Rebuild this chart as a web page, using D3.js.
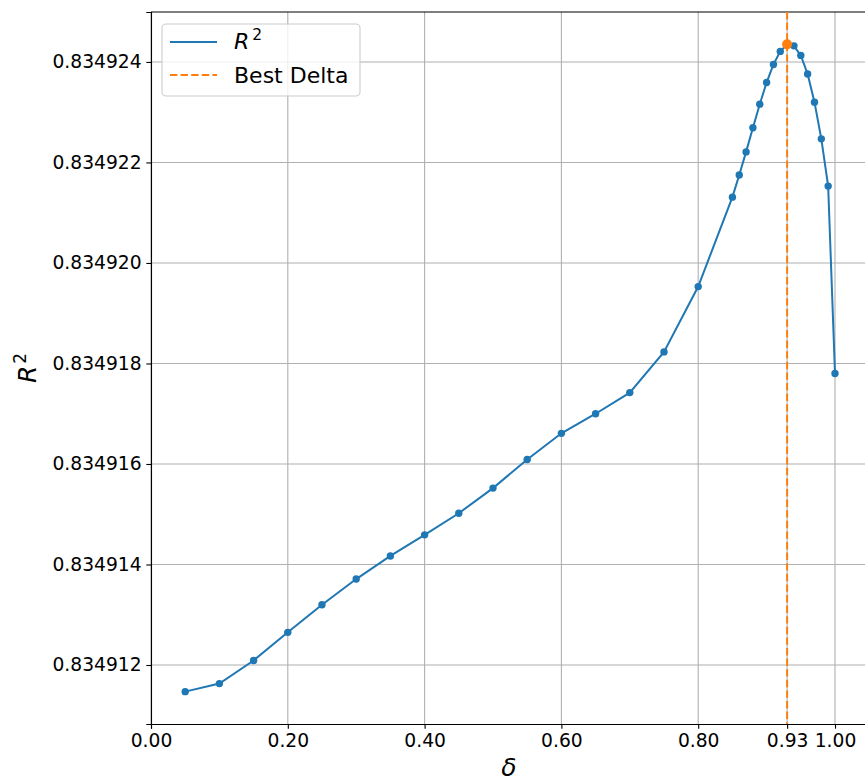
<!DOCTYPE html>
<html>
<head>
<meta charset="utf-8">
<script src="https://cdn.jsdelivr.net/npm/d3@7"></script>
<style>
  body { margin: 0; background: #fff; }
  svg { font-family: "DejaVu Sans", sans-serif; display: block; }
</style>
</head>
<body>
<div id="chart"></div>
<script>
// delta values and R^2
var deltas = [0.05, 0.10, 0.15, 0.20, 0.25, 0.30, 0.35, 0.40, 0.45, 0.50, 0.55, 0.60, 0.65, 0.70, 0.75, 0.80,
  0.85, 0.86, 0.87, 0.88, 0.89, 0.90, 0.91, 0.92, 0.93, 0.94, 0.95, 0.96, 0.97, 0.98, 0.99, 1.00];
var r2 = [0.83491147, 0.83491163, 0.83491209, 0.83491265, 0.83491320, 0.83491371, 0.83491417, 0.83491459,
  0.83491502, 0.83491552, 0.83491609, 0.83491661, 0.83491700, 0.83491742, 0.83491823, 0.83491953,
  0.83492131, 0.83492175, 0.83492221, 0.83492269, 0.83492316, 0.83492359, 0.83492395, 0.83492421,
  0.83492435, 0.83492432, 0.83492413, 0.83492376, 0.83492320, 0.83492247, 0.83492153, 0.83491780];
var bestDelta = 0.93;
var xTicks = [0.00, 0.20, 0.40, 0.60, 0.80, 0.93, 1.00];
var yTicks = [0.834912, 0.834914, 0.834916, 0.834918, 0.834920, 0.834922, 0.834924];

var width = 865, height = 781;
var margin = {top: 12, left: 151, bottom: 57};
var plotW = 1.0475 * 684;
var plotH = height - margin.top - margin.bottom;

var svg = d3.select("#chart").append("svg")
  .attr("width", width)
  .attr("height", height);

var yMin = d3.min(r2), yMax = d3.max(r2), pad = (yMax - yMin) * 0.05;

var x = d3.scaleLinear().domain([0, 1.0475]).range([margin.left, margin.left + plotW]);
var y = d3.scaleLinear().domain([yMin - pad, yMax + pad]).range([margin.top + plotH, margin.top]);

// grid
svg.append("g").selectAll("line.vg")
  .data(xTicks)
  .enter().append("line")
  .attr("x1", function(d) { return x(d); })
  .attr("x2", function(d) { return x(d); })
  .attr("y1", margin.top)
  .attr("y2", margin.top + plotH)
  .attr("stroke", "#b0b0b0")
  .attr("stroke-width", 1.1);

svg.append("g").selectAll("line.hg")
  .data(yTicks)
  .enter().append("line")
  .attr("x1", margin.left)
  .attr("x2", margin.left + plotW)
  .attr("y1", function(d) { return y(d); })
  .attr("y2", function(d) { return y(d); })
  .attr("stroke", "#b0b0b0")
  .attr("stroke-width", 1.1);

// axes
var xAxis = svg.append("g")
  .attr("transform", "translate(0," + (margin.top + plotH) + ")")
  .call(d3.axisBottom(x).tickValues(xTicks).tickFormat(d3.format(".2f")).tickSizeOuter(0).tickSize(4.7).tickPadding(4.7));

var yAxis = svg.append("g")
  .attr("transform", "translate(" + margin.left + ",0)")
  .call(d3.axisLeft(y).tickValues(yTicks).tickFormat(d3.format(".6f")).tickSizeOuter(0).tickSize(4.7).tickPadding(4.7));

[xAxis, yAxis].forEach(function(a) {
  a.selectAll("text").attr("font-size", "18.7px").attr("fill", "#000").attr("font-family", "DejaVu Sans");
  a.selectAll(".tick line").attr("stroke", "#000").attr("stroke-width", 1.1);
  a.select(".domain").attr("stroke", "#000").attr("stroke-width", 1.1);
});

// top spine
svg.append("line")
  .attr("x1", margin.left).attr("x2", margin.left + plotW)
  .attr("y1", margin.top).attr("y2", margin.top)
  .attr("stroke", "#000").attr("stroke-width", 1.1);

// best delta line
svg.append("line")
  .attr("x1", x(bestDelta)).attr("x2", x(bestDelta))
  .attr("y1", margin.top).attr("y2", margin.top + plotH)
  .attr("stroke", "#ff7f0e")
  .attr("stroke-width", 2)
  .attr("stroke-dasharray", "7.4,3.2");

// R^2 line
var line = d3.line()
  .x(function(d, i) { return x(deltas[i]); })
  .y(function(d) { return y(d); });

svg.append("path")
  .datum(r2)
  .attr("d", line)
  .attr("fill", "none")
  .attr("stroke", "#1f77b4")
  .attr("stroke-width", 2);

svg.append("g").selectAll("circle")
  .data(r2)
  .enter().append("circle")
  .attr("cx", function(d, i) { return x(deltas[i]); })
  .attr("cy", function(d) { return y(d); })
  .attr("r", 3.7)
  .attr("fill", "#1f77b4");

// best point
var bi = deltas.indexOf(bestDelta);
svg.append("circle")
  .attr("cx", x(bestDelta))
  .attr("cy", y(r2[bi]))
  .attr("r", 5)
  .attr("fill", "#ff7f0e");

// axis labels
svg.append("text")
  .attr("x", margin.left + 358)
  .attr("y", 776)
  .attr("text-anchor", "middle")
  .attr("font-size", "25px")
  .attr("font-style", "italic")
  .text("δ");

var yl = svg.append("text")
  .attr("transform", "translate(36," + (margin.top + plotH / 2) + ") rotate(-90)")
  .attr("text-anchor", "middle")
  .attr("font-size", "25px");
yl.append("tspan").attr("font-style", "italic").text("R");
yl.append("tspan").attr("font-size", "17px").attr("dx", 2).attr("dy", -10).text("2");

// legend
var lg = svg.append("g");
lg.append("rect")
  .attr("x", 162).attr("y", 24)
  .attr("width", 198).attr("height", 72)
  .attr("rx", 4)
  .attr("fill", "#fff").attr("fill-opacity", 0.8)
  .attr("stroke", "#cccccc").attr("stroke-width", 1.1);

lg.append("line")
  .attr("x1", 170).attr("x2", 217).attr("y1", 42).attr("y2", 42)
  .attr("stroke", "#1f77b4").attr("stroke-width", 2);
lg.append("line")
  .attr("x1", 170).attr("x2", 217).attr("y1", 75).attr("y2", 75)
  .attr("stroke", "#ff7f0e").attr("stroke-width", 2)
  .attr("stroke-dasharray", "7.4,3.2");

var t1 = lg.append("text").attr("x", 234).attr("y", 49).attr("font-size", "22px");
t1.append("tspan").attr("font-style", "italic").text("R");
t1.append("tspan").attr("font-size", "15.5px").attr("dx", 3).attr("dy", -9).text("2");

lg.append("text").attr("x", 234).attr("y", 83).attr("font-size", "22px").text("Best Delta");
</script>
</body>
</html>
